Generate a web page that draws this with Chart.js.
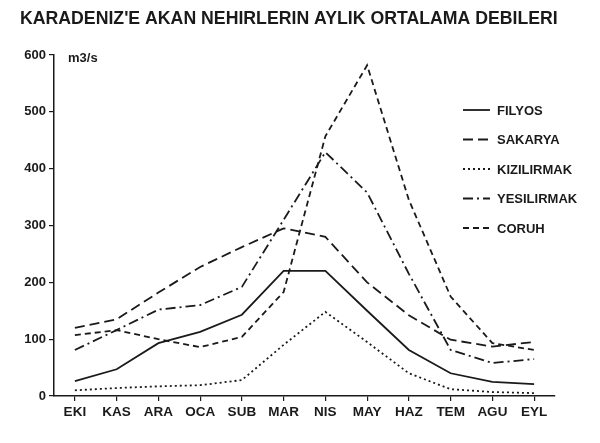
<!DOCTYPE html>
<html lang="tr">
<head>
  <meta charset="UTF-8">
  <title>Karadeniz'e akan nehirlerin aylık ortalama debileri</title>
  <script src="https://cdn.jsdelivr.net/npm/chart.js"></script>
  <style>
    html, body { margin: 0; padding: 0; background: #fff; }
    #wrap { width: 600px; height: 443px; position: relative; }
  </style>
</head>
<body>
<div id="wrap"><canvas id="debiChart"></canvas></div>

<script>
  const aylar = ['EKI', 'KAS', 'ARA', 'OCA', 'SUB', 'MAR', 'NIS', 'MAY', 'HAZ', 'TEM', 'AGU', 'EYL'];

  // m3/s, okunan degerler
  const filyos     = [26, 47, 93, 113, 143, 220, 220, 150, 81, 40, 25, 21];
  const sakarya    = [120, 135, 182, 227, 262, 295, 280, 200, 142, 99, 87, 95];
  const kizilirmak = [10, 14, 17, 19, 28, 90, 148, 95, 40, 12, 7, 5];
  const yesilirmak = [81, 116, 152, 160, 192, 310, 429, 358, 215, 81, 58, 65];
  const coruh      = [107, 116, 100, 86, 104, 183, 457, 582, 345, 175, 93, 81];

  const yTicks = [0, 100, 200, 300, 400, 500, 600];

  const ink = '#1a1a1a';
  const font = '"Liberation Sans", Arial, sans-serif';

  const seri = (label, data, dash) => ({
    label: label,
    data: data,
    borderColor: ink,
    borderWidth: 1.8,
    borderDash: dash,
    fill: false,
    tension: 0,
    pointRadius: 0
  });

  // baslik, birim ve sag taraftaki lejant
  const yazilar = {
    id: 'yazilar',
    afterDraw(chart) {
      const ctx = chart.ctx;
      ctx.save();
      ctx.fillStyle = ink;
      ctx.textBaseline = 'middle';
      ctx.textAlign = 'left';
      ctx.font = 'bold 17.7px ' + font;
      ctx.fillText("KARADENIZ'E AKAN NEHIRLERIN AYLIK ORTALAMA DEBILERI", 20, 19);

      ctx.font = 'bold 13px ' + font;
      ctx.fillText('m3/s', 68, 58);

      chart.data.datasets.forEach((ds, i) => {
        const y = 110 + i * 29.5;
        ctx.beginPath();
        ctx.strokeStyle = ink;
        ctx.lineWidth = 1.8;
        ctx.setLineDash(ds.borderDash);
        ctx.moveTo(463, y);
        ctx.lineTo(490, y);
        ctx.stroke();
        ctx.setLineDash([]);
        ctx.fillText(ds.label, 497, y + 1);
      });
      ctx.restore();
    }
  };

  new Chart(document.getElementById('debiChart'), {
    type: 'line',
    data: {
      labels: aylar,
      datasets: [
        seri('FILYOS', filyos, []),
        seri('SAKARYA', sakarya, [10, 5]),
        seri('KIZILIRMAK', kizilirmak, [2, 3]),
        seri('YESILIRMAK', yesilirmak, [10, 4, 2, 4]),
        seri('CORUH', coruh, [6, 4])
      ]
    },
    options: {
      responsive: true,
      maintainAspectRatio: false,
      animation: false,
      layout: { padding: { top: 55, right: 45, bottom: 17, left: 0 } },
      plugins: {
        legend: { display: false },
        title: { display: false },
        tooltip: { enabled: false }
      },
      scales: {
        x: {
          offset: true,
          grid: { display: true, offset: false, drawOnChartArea: false, tickLength: 5, color: ink, lineWidth: 1.2 },
          border: { display: true, color: ink, width: 1.5 },
          ticks: { color: ink, font: { family: font, size: 13.5, weight: 'bold' }, padding: 3, maxRotation: 0, autoSkip: false },
          afterFit: s => { s.height = 30; }
        },
        y: {
          min: 0,
          max: 600,
          afterBuildTicks: s => { s.ticks = yTicks.map(v => ({ value: v })); },
          grid: { display: true, drawOnChartArea: false, tickLength: 5, color: ink, lineWidth: 1.2 },
          border: { display: true, color: ink, width: 1.5 },
          ticks: { color: ink, font: { family: font, size: 13, weight: 'bold' }, padding: 3 },
          afterFit: s => { s.width = 54; }
        }
      }
    },
    plugins: [yazilar]
  });
</script>
</body>
</html>
